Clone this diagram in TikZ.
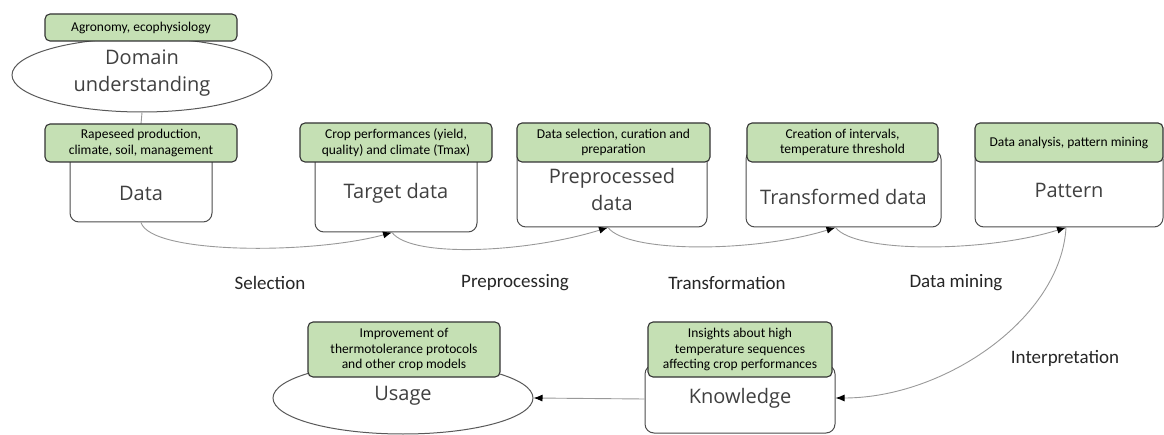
\documentclass[tikz,border=0pt]{standalone}
\usepackage{fontspec}
\usetikzlibrary{shapes.geometric,arrows.meta}
\newfontfamily\osans{Open Sans}
\newfontfamily\carl{Carlito}
\definecolor{gfill}{RGB}{197,224,180}
\definecolor{mtext}{RGB}{64,64,64}
\begin{document}
\begin{tikzpicture}[x=1pt,y=-1pt,
  gbox/.style={draw=black!80, fill=gfill, rounded corners=5pt, line width=1.1pt, inner sep=0pt, align=center, font=\carl\fontsize{13.5}{15.5}\selectfont},
  wbox/.style={draw=black!70, fill=white, rounded corners=9pt, line width=1pt, inner sep=0pt},
  ell/.style={ellipse, draw=black!65, fill=white, line width=1pt, inner sep=0pt},
  txt/.style={font=\osans\fontsize{20}{27}\selectfont, text=mtext, align=center, inner sep=0pt},
  lab/.style={font=\carl\fontsize{19}{22}\selectfont, text=black!85, inner sep=0pt},
  conn/.style={draw=black!40, line width=0.9pt, -{Latex[color=black,length=9pt,width=7pt]}},
  plain/.style={draw=black!40, line width=0.9pt}
]
\useasboundingbox (0,0) rectangle (1164,435);
\clip (0,0) rectangle (1164,435);

% white boxes and ellipses
\node[ell, minimum width=260pt, minimum height=74pt] (dom) at (142,75) {};
\node[wbox, minimum width=142pt, minimum height=72pt] (data) at (141,186) {};
\node[wbox, minimum width=162pt, minimum height=82pt] (target) at (396,191) {};
\node[wbox, minimum width=190pt, minimum height=77pt] (prep) at (612,188.5) {};
\node[wbox, minimum width=195pt, minimum height=77pt] (trans) at (843.5,188.5) {};
\node[wbox, minimum width=188pt, minimum height=77pt] (pat) at (1069,188.5) {};
\node[wbox, minimum width=190pt, minimum height=68pt] (know) at (740,399) {};
\node[ell, minimum width=260pt, minimum height=72pt] (usage) at (403,398) {};

% main texts
\node[txt] (tdom) at (142,73) {Domain\\understanding};
\node[txt] (tdata) at (141,193) {Data};
\node[txt] (ttarget) at (396,193) {Target data};
\node[txt] (tprep) at (612,190) {Preprocessed\\data};
\node[txt] (ttrans) at (843.5,197) {Transformed data};
\node[txt] (tpat) at (1069,190) {Pattern};
\node[txt] (tknow) at (740,398) {Knowledge};
\node[txt] (tusage) at (403,396) {Usage};

% vertical link
\draw[plain] (dom.south) -- (141,124);

% green boxes
\node[gbox, minimum width=192pt, minimum height=27pt] (agro) at (141,27.5) {Agronomy, ecophysiology};
\node[gbox, minimum width=192pt, minimum height=38pt] (rape) at (141,143) {Rapeseed production,\\climate, soil, management};
\node[gbox, minimum width=192pt, minimum height=39pt] (crop) at (396,142.5) {Crop performances (yield,\\quality) and climate (Tmax)};
\node[gbox, minimum width=193pt, minimum height=39pt] (dsel) at (613.5,142.5) {Data selection, curation and\\preparation};
\node[gbox, minimum width=191pt, minimum height=39pt] (creat) at (842.5,142.5) {Creation of intervals,\\temperature threshold};
\node[gbox, minimum width=188pt, minimum height=39pt] (anal) at (1069,142.5) {Data analysis, pattern mining};
\node[gbox, minimum width=192pt, minimum height=55pt] (impr) at (404,349.5) {Improvement of\\thermotolerance protocols\\and other crop models};
\node[gbox, minimum width=184pt, minimum height=55pt] (insi) at (740,349.5) {Insights about high\\temperature sequences\\affecting crop performances};

% connectors
\coordinate (p1) at ([xshift=-4pt]target.south);
\coordinate (p2) at ([xshift=-4pt]prep.south);
\coordinate (p3) at ([xshift=-8pt]trans.south);
\coordinate (p4) at ([xshift=-3pt]pat.south);
\draw[conn] (data.south) .. controls +(10,32) and +(-80,22) .. (p1);
\draw[conn] (p1) .. controls +(20,26) and +(-80,25) .. (p2);
\draw[conn] (p2) .. controls +(20,26) and +(-80,25) .. (p3);
\draw[conn] (p3) .. controls +(20,26) and +(-80,25) .. (p4);
\draw[conn] (p4) .. controls +(-5,90) and +(110,0) .. ([yshift=1pt]know.east);
\draw[conn] (know.west) -- (usage.east);

% labels
\node[lab] (lsel) at (270,283) {Selection};
\node[lab] (lpre) at (515,283) {Preprocessing};
\node[lab] (ltra) at (727,283) {Transformation};
\node[lab] (lmin) at (956,283) {Data mining};
\node[lab] (lint) at (1065,358) {Interpretation};
\end{tikzpicture}
\end{document}
